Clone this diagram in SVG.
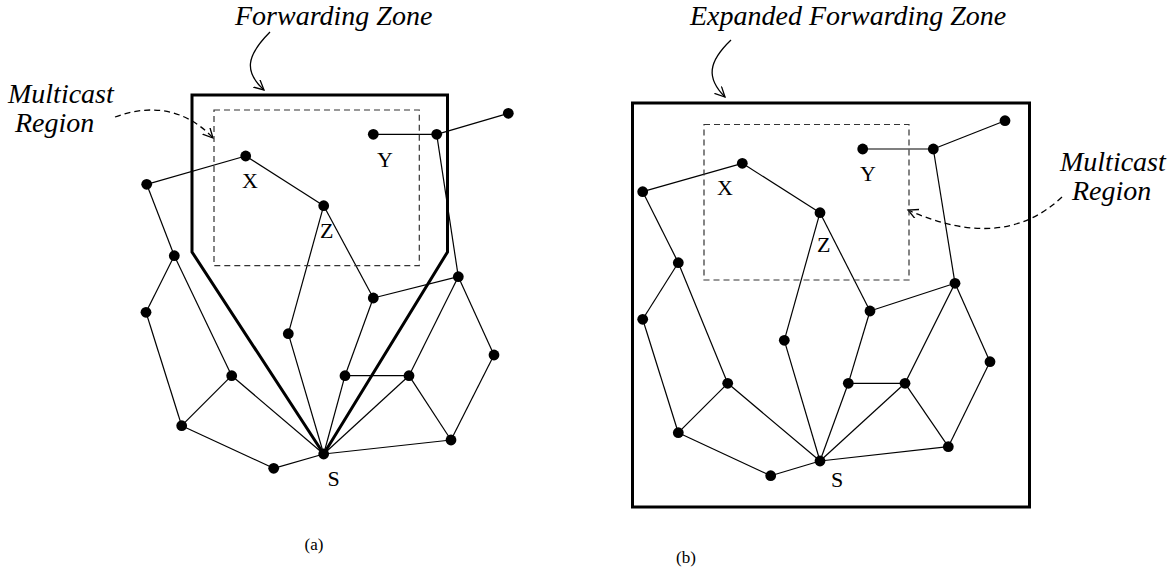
<svg xmlns="http://www.w3.org/2000/svg" width="1172" height="571" viewBox="0 0 1172 571">
<style>
.e{stroke:#000;stroke-width:1.2;fill:none}
.n{fill:#000}
.zone{stroke:#000;stroke-width:3;fill:none}
.reg{stroke:#333;stroke-width:1.2;fill:none;stroke-dasharray:6 4}
.lbl{font-family:"Liberation Serif",serif;font-size:22px;fill:#000;text-anchor:middle}
.ital{font-family:"Liberation Serif",serif;font-style:italic;font-size:28px;fill:#000}
.cap{font-family:"Liberation Serif",serif;font-size:17px;fill:#000;text-anchor:middle}
.arr{stroke:#000;stroke-width:1.3;fill:none}
.darr{stroke:#000;stroke-width:1.3;fill:none;stroke-dasharray:6 4}
</style>
<defs>
<marker id="ah" markerWidth="12" markerHeight="12" refX="10" refY="5" orient="auto" markerUnits="userSpaceOnUse">
<path d="M0,0 L10,5 L0,10" fill="none" stroke="#000" stroke-width="1.3"/>
</marker>
</defs>
<rect width="1172" height="571" fill="#fff"/>

<g id="connectors">
<line class="e" x1="508.3" y1="113.3" x2="436.7" y2="134.3"/>
<line class="e" x1="373.3" y1="134.3" x2="436.7" y2="134.3"/>
<line class="e" x1="436.7" y1="134.3" x2="458.3" y2="276.7"/>
<line class="e" x1="146.7" y1="184.3" x2="245.7" y2="156"/>
<line class="e" x1="245.7" y1="156" x2="323.7" y2="205.7"/>
<line class="e" x1="146.7" y1="184.3" x2="174.3" y2="255.7"/>
<line class="e" x1="174.3" y1="255.7" x2="146" y2="312.3"/>
<line class="e" x1="174.3" y1="255.7" x2="231.7" y2="375.7"/>
<line class="e" x1="323.7" y1="205.7" x2="288.3" y2="333.7"/>
<line class="e" x1="323.7" y1="205.7" x2="373.3" y2="298"/>
<line class="e" x1="373.3" y1="298" x2="458.3" y2="276.7"/>
<line class="e" x1="373.3" y1="298" x2="345" y2="375.7"/>
<line class="e" x1="458.3" y1="276.7" x2="409" y2="375.7"/>
<line class="e" x1="458.3" y1="276.7" x2="494" y2="355"/>
<line class="e" x1="494" y1="355" x2="451" y2="440"/>
<line class="e" x1="409" y1="375.7" x2="451" y2="440"/>
<line class="e" x1="345" y1="375.7" x2="409" y2="375.7"/>
<line class="e" x1="345" y1="375.7" x2="323.7" y2="454"/>
<line class="e" x1="409" y1="375.7" x2="323.7" y2="454"/>
<line class="e" x1="288.3" y1="333.7" x2="323.7" y2="454"/>
<line class="e" x1="231.7" y1="375.7" x2="323.7" y2="454"/>
<line class="e" x1="231.7" y1="375.7" x2="181.7" y2="425.7"/>
<line class="e" x1="146" y1="312.3" x2="181.7" y2="425.7"/>
<line class="e" x1="181.7" y1="425.7" x2="273.7" y2="468.3"/>
<line class="e" x1="273.7" y1="468.3" x2="323.7" y2="454"/>
<line class="e" x1="323.7" y1="454" x2="451" y2="440"/>
<line class="e" x1="1005" y1="120.7" x2="933.3" y2="149"/>
<line class="e" x1="862.7" y1="149" x2="933.3" y2="149"/>
<line class="e" x1="933.3" y1="149" x2="955" y2="283.3"/>
<line class="e" x1="642.7" y1="191.7" x2="742.3" y2="163.3"/>
<line class="e" x1="742.3" y1="163.3" x2="820" y2="212.7"/>
<line class="e" x1="642.7" y1="191.7" x2="678.3" y2="262.7"/>
<line class="e" x1="678.3" y1="262.7" x2="642.7" y2="319.3"/>
<line class="e" x1="678.3" y1="262.7" x2="727.7" y2="383.3"/>
<line class="e" x1="820" y1="212.7" x2="784.3" y2="340.3"/>
<line class="e" x1="820" y1="212.7" x2="870" y2="311"/>
<line class="e" x1="870" y1="311" x2="955" y2="283.3"/>
<line class="e" x1="870" y1="311" x2="848.3" y2="383.3"/>
<line class="e" x1="955" y1="283.3" x2="905" y2="383.3"/>
<line class="e" x1="955" y1="283.3" x2="990" y2="361.7"/>
<line class="e" x1="990" y1="361.7" x2="948.3" y2="446.7"/>
<line class="e" x1="905" y1="383.3" x2="948.3" y2="446.7"/>
<line class="e" x1="848.3" y1="383.3" x2="905" y2="383.3"/>
<line class="e" x1="848.3" y1="383.3" x2="820" y2="461"/>
<line class="e" x1="905" y1="383.3" x2="820" y2="461"/>
<line class="e" x1="784.3" y1="340.3" x2="820" y2="461"/>
<line class="e" x1="727.7" y1="383.3" x2="820" y2="461"/>
<line class="e" x1="727.7" y1="383.3" x2="678.3" y2="432.7"/>
<line class="e" x1="642.7" y1="319.3" x2="678.3" y2="432.7"/>
<line class="e" x1="678.3" y1="432.7" x2="770.7" y2="475.7"/>
<line class="e" x1="770.7" y1="475.7" x2="820" y2="461"/>
<line class="e" x1="820" y1="461" x2="948.3" y2="446.7"/>
<path class="arr" d="M270,32 C246,56 244,72 264,90" marker-end="url(#ah)"/>
<path class="arr" d="M731,40 C708,62 706,78 725,97" marker-end="url(#ah)"/>
<path class="darr" d="M115,117 C150,104 185,108 213,138" marker-end="url(#ah)"/>
<path class="darr" d="M1062,197 C1025,232 975,240 908,210" marker-end="url(#ah)"/>
</g>

<g id="zone-a"><polygon class="zone" points="192,95 447.5,95 447.5,252 323.7,454 192,252"/></g>
<g id="region-a"><rect class="reg" x="214" y="110" width="205.3" height="155.7"/></g>
<g id="zone-b"><rect class="zone" x="632.5" y="103" width="397" height="404"/></g>
<g id="region-b"><rect class="reg" x="704" y="124.5" width="205" height="155.5"/></g>

<g id="nodes-a">
<g id="a-n1"><circle class="n" cx="508.3" cy="113.3" r="5.4"/></g>
<g id="a-Y"><circle class="n" cx="373.3" cy="134.3" r="5.4"/><text class="lbl" x="385" y="167">Y</text></g>
<g id="a-n2"><circle class="n" cx="436.7" cy="134.3" r="5.4"/></g>
<g id="a-X"><circle class="n" cx="245.7" cy="156" r="5.4"/><text class="lbl" x="250" y="188">X</text></g>
<g id="a-n3"><circle class="n" cx="146.7" cy="184.3" r="5.4"/></g>
<g id="a-Z"><circle class="n" cx="323.7" cy="205.7" r="5.4"/><text class="lbl" x="326.7" y="238">Z</text></g>
<g id="a-n4"><circle class="n" cx="174.3" cy="255.7" r="5.4"/></g>
<g id="a-n5"><circle class="n" cx="458.3" cy="276.7" r="5.4"/></g>
<g id="a-n6"><circle class="n" cx="373.3" cy="298" r="5.4"/></g>
<g id="a-n7"><circle class="n" cx="146" cy="312.3" r="5.4"/></g>
<g id="a-n8"><circle class="n" cx="288.3" cy="333.7" r="5.4"/></g>
<g id="a-n9"><circle class="n" cx="494" cy="355" r="5.4"/></g>
<g id="a-n10"><circle class="n" cx="231.7" cy="375.7" r="5.4"/></g>
<g id="a-n11"><circle class="n" cx="345" cy="375.7" r="5.4"/></g>
<g id="a-n12"><circle class="n" cx="409" cy="375.7" r="5.4"/></g>
<g id="a-n13"><circle class="n" cx="181.7" cy="425.7" r="5.4"/></g>
<g id="a-n14"><circle class="n" cx="451" cy="440" r="5.4"/></g>
<g id="a-S"><circle class="n" cx="323.7" cy="454" r="5.4"/><text class="lbl" x="333.5" y="486">S</text></g>
<g id="a-n15"><circle class="n" cx="273.7" cy="468.3" r="5.4"/></g>
</g>

<g id="nodes-b">
<g id="b-n1"><circle class="n" cx="1005" cy="120.7" r="5.4"/></g>
<g id="b-Y"><circle class="n" cx="862.7" cy="149" r="5.4"/><text class="lbl" x="868" y="181">Y</text></g>
<g id="b-n2"><circle class="n" cx="933.3" cy="149" r="5.4"/></g>
<g id="b-X"><circle class="n" cx="742.3" cy="163.3" r="5.4"/><text class="lbl" x="725" y="195">X</text></g>
<g id="b-n3"><circle class="n" cx="642.7" cy="191.7" r="5.4"/></g>
<g id="b-Z"><circle class="n" cx="820" cy="212.7" r="5.4"/><text class="lbl" x="823.7" y="252">Z</text></g>
<g id="b-n4"><circle class="n" cx="678.3" cy="262.7" r="5.4"/></g>
<g id="b-n5"><circle class="n" cx="955" cy="283.3" r="5.4"/></g>
<g id="b-n6"><circle class="n" cx="870" cy="311" r="5.4"/></g>
<g id="b-n7"><circle class="n" cx="642.7" cy="319.3" r="5.4"/></g>
<g id="b-n8"><circle class="n" cx="784.3" cy="340.3" r="5.4"/></g>
<g id="b-n9"><circle class="n" cx="990" cy="361.7" r="5.4"/></g>
<g id="b-n10"><circle class="n" cx="727.7" cy="383.3" r="5.4"/></g>
<g id="b-n11"><circle class="n" cx="848.3" cy="383.3" r="5.4"/></g>
<g id="b-n12"><circle class="n" cx="905" cy="383.3" r="5.4"/></g>
<g id="b-n13"><circle class="n" cx="678.3" cy="432.7" r="5.4"/></g>
<g id="b-n14"><circle class="n" cx="948.3" cy="446.7" r="5.4"/></g>
<g id="b-S"><circle class="n" cx="820" cy="461" r="5.4"/><text class="lbl" x="837" y="486.5">S</text></g>
<g id="b-n15"><circle class="n" cx="770.7" cy="475.7" r="5.4"/></g>
</g>

<g id="labels">
<text class="ital" x="235" y="25">Forwarding Zone</text>
<text class="ital" x="690" y="25">Expanded Forwarding Zone</text>
<text class="ital" x="8" y="103">Multicast</text>
<text class="ital" x="15" y="132">Region</text>
<text class="ital" x="1060" y="171">Multicast</text>
<text class="ital" x="1072" y="200">Region</text>
<text class="cap" x="314" y="550">(a)</text>
<text class="cap" x="686" y="563">(b)</text>
</g>
</svg>
